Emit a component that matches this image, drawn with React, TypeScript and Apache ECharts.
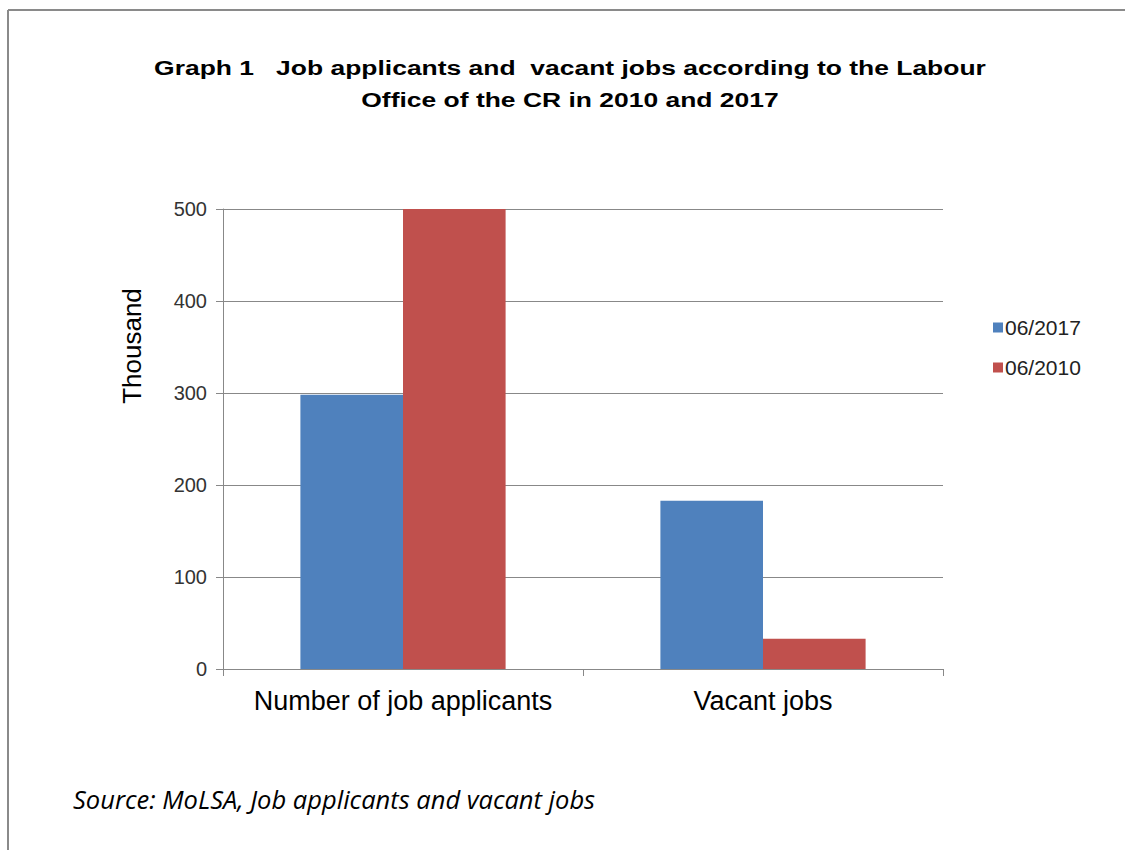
import React, { useEffect, useRef } from "react";
import * as echarts from "echarts";

const categories = ["Number of job applicants", "Vacant jobs"];
const series2017 = [298, 183];
const series2010 = [500, 33];
const seriesNames = ["06/2017", "06/2010"];
const yTicks = [0, 100, 200, 300, 400, 500];
const titleLines = [
  "Graph 1   Job applicants and  vacant jobs according to the Labour",
  "Office of the CR in 2010 and 2017",
];
const yAxisName = "Thousand";
const sourceText = "Source: MoLSA, Job applicants and vacant jobs";

export default function App() {
  const ref = useRef<HTMLDivElement>(null);
  useEffect(() => {
    document.body.style.margin = "0";
    const chart = echarts.init(ref.current!, null, { renderer: "svg" });
    chart.setOption({
      animation: false,
      backgroundColor: "#ffffff",
      legend: {
        orient: "vertical",
        left: 993,
        top: 317,
        padding: 0,
        itemWidth: 10,
        itemHeight: 10,
        itemGap: 19,
        icon: "rect",
        textStyle: { fontFamily: "Liberation Sans", fontSize: 21, color: "#222", padding: [0, 0, 0, -3] },
        data: seriesNames,
      },
      grid: { left: 223, right: 182, top: 209, bottom: 181 },
      xAxis: {
        type: "category",
        data: categories,
        axisLine: { lineStyle: { color: "#888", width: 1 } },
        axisTick: { show: true, interval: 0, length: 7, lineStyle: { color: "#888" } },
        axisLabel: { interval: 0, fontFamily: "Liberation Sans", fontSize: 27, color: "#000", margin: 18 },
      },
      yAxis: {
        type: "value",
        min: 0,
        max: 500,
        interval: 100,
        axisLine: { show: true, lineStyle: { color: "#888", width: 1 } },
        axisTick: { show: true, length: 7, lineStyle: { color: "#888" } },
        axisLabel: {
          fontFamily: "Liberation Sans",
          fontSize: 20,
          color: "#333",
          margin: 16,
          formatter: (v: number) => (yTicks.includes(v) ? String(v) : ""),
        },
        splitLine: { lineStyle: { color: "#888", width: 1 } },
      },
      series: [
        {
          name: seriesNames[0],
          type: "bar",
          data: series2017,
          barGap: "0%",
          barCategoryGap: "43%",
          itemStyle: { color: "#4F81BD" },
        },
        {
          name: seriesNames[1],
          type: "bar",
          data: series2010,
          barGap: "0%",
          barCategoryGap: "43%",
          itemStyle: { color: "#C0504D" },
        },
      ],
      graphic: [
        { type: "line", shape: { x1: 8, y1: 10, x2: 1125, y2: 10 }, style: { stroke: "#8a8a8a", lineWidth: 2 } },
        { type: "line", shape: { x1: 8, y1: 10, x2: 8, y2: 850 }, style: { stroke: "#8a8a8a", lineWidth: 2 } },
        {
          type: "text",
          x: 570,
          y: 68,
          scaleX: 1.26,
          style: {
            text: titleLines[0],
            font: "bold 21px 'Liberation Sans'",
            fill: "#000",
            textAlign: "center",
            textVerticalAlign: "middle",
          },
        },
        {
          type: "text",
          x: 570,
          y: 100,
          scaleX: 1.26,
          style: {
            text: titleLines[1],
            font: "bold 21px 'Liberation Sans'",
            fill: "#000",
            textAlign: "center",
            textVerticalAlign: "middle",
          },
        },
        {
          type: "text",
          x: 132,
          y: 346,
          rotation: Math.PI / 2,
          style: {
            text: yAxisName,
            font: "26px 'Liberation Sans'",
            fill: "#000",
            textAlign: "center",
            textVerticalAlign: "middle",
          },
        },
        {
          type: "text",
          x: 73,
          y: 799,
          style: {
            text: sourceText,
            font: "italic 25.5px 'Open Sans'",
            fill: "#000",
            textAlign: "left",
            textVerticalAlign: "middle",
          },
        },
      ],
    });
    return () => chart.dispose();
  }, []);
  return <div ref={ref} style={{ position: "absolute", left: 0, top: 0, width: 1125, height: 850 }} />;
}
